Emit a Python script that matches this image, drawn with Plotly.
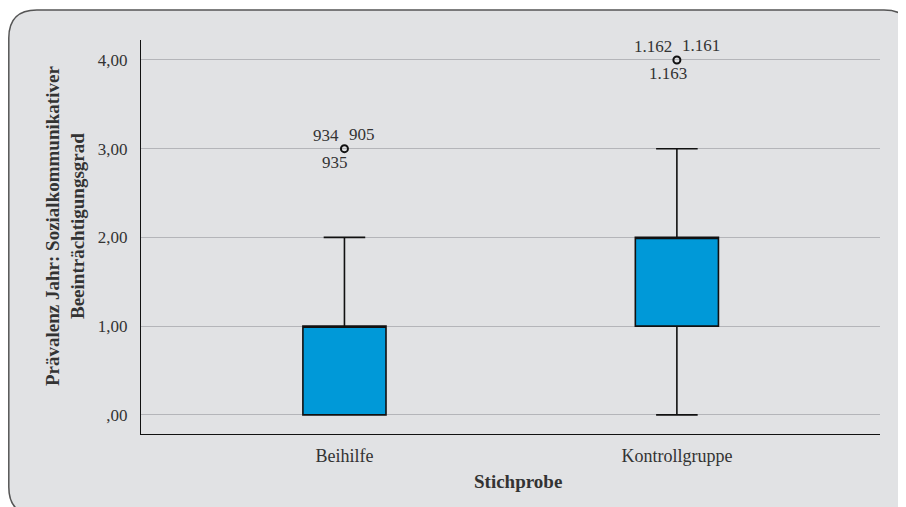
import plotly.graph_objects as go

# ---- data ----
groups = ["Beihilfe", "Kontrollgruppe"]
q1_vals = [0, 1]
median_vals = [1, 2]
q3_vals = [1, 2]
lower_fence = [0, 0]
upper_fence = [2, 3]

outlier_x = ["Beihilfe", "Kontrollgruppe"]
outlier_y = [3, 4]
label_left = ["934", "1.162"]
label_right = ["905", "1.161"]
label_below = ["935", "1.163"]

y_ticks = [0, 1, 2, 3, 4]
y_ticktext = [",00", "1,00", "2,00", "3,00", "4,00"]

x_title = "Stichprobe"
y_title = "Prävalenz Jahr: Sozialkommunikativer<br>Beeinträchtigungsgrad"

# ---- layout geometry (pixels) ----
# the page body has an 8px margin, so the figure is 8px smaller than the window
OFF = 8
W, H = 898, 499
L, R, T, B = 133, 26, 32, 73
PW, PH = W - L - R, H - T - B


def px(xp):  # page pixel -> paper x
    return (xp - OFF - L) / PW


def py(yp):  # page pixel -> paper y
    return (H - B - (yp - OFF)) / PH


FONT = "Liberation Serif, Times New Roman, serif"
TXT = "#333333"

fig = go.Figure()

fig.add_trace(go.Box(
    x=groups,
    q1=q1_vals,
    median=median_vals,
    q3=q3_vals,
    lowerfence=lower_fence,
    upperfence=upper_fence,
    boxpoints=False,
    width=0.25,
    whiskerwidth=0.5,
    fillcolor="#0099d8",
    line=dict(color="#111111", width=1.6),
    showlegend=False,
    hoverinfo="skip",
))

fig.add_trace(go.Scatter(
    x=outlier_x,
    y=outlier_y,
    mode="markers",
    marker=dict(symbol="circle-open", size=7, color="#111111", line=dict(width=2, color="#111111")),
    showlegend=False,
    hoverinfo="skip",
))

annotations = []
for xc, yv, tl, tr, tb in zip(outlier_x, outlier_y, label_left, label_right, label_below):
    annotations.append(dict(x=xc, y=yv, xref="x", yref="y", text=tl, showarrow=False,
                            xanchor="right", yanchor="middle", xshift=-3, yshift=13,
                            font=dict(family=FONT, size=17, color=TXT)))
    annotations.append(dict(x=xc, y=yv, xref="x", yref="y", text=tr, showarrow=False,
                            xanchor="left", yanchor="middle", xshift=3, yshift=14,
                            font=dict(family=FONT, size=17, color=TXT)))
    annotations.append(dict(x=xc, y=yv, xref="x", yref="y", text=tb, showarrow=False,
                            xanchor="center", yanchor="middle", xshift=-9, yshift=-14,
                            font=dict(family=FONT, size=17, color=TXT)))

# axis titles as annotations for exact placement
annotations.append(dict(x=px(518), y=py(481), xref="paper", yref="paper", text=f"<b>{x_title}</b>",
                        showarrow=False, xanchor="center", yanchor="middle",
                        font=dict(family=FONT, size=19, color=TXT)))
annotations.append(dict(x=px(65), y=py(226), xref="paper", yref="paper", text=f"<b>{y_title}</b>",
                        showarrow=False, xanchor="center", yanchor="middle", textangle=-90,
                        font=dict(family=FONT, size=19, color=TXT)))

# rounded card background (page pixel coordinates)
x0, x1, y0, y1, r = 8.8, 912, 10, 515, 28
path = (
    f"M {px(x0)},{py(y0 + r)} Q {px(x0)},{py(y0)} {px(x0 + r)},{py(y0)} "
    f"L {px(x1 - r)},{py(y0)} Q {px(x1)},{py(y0)} {px(x1)},{py(y0 + r)} "
    f"L {px(x1)},{py(y1 - r)} Q {px(x1)},{py(y1)} {px(x1 - r)},{py(y1)} "
    f"L {px(x0 + r)},{py(y1)} Q {px(x0)},{py(y1)} {px(x0)},{py(y1 - r)} Z"
)

fig.update_layout(
    width=W, height=H,
    margin=dict(l=L, r=R, t=T, b=B, autoexpand=False),
    paper_bgcolor="white",
    plot_bgcolor="rgba(0,0,0,0)",
    font=dict(family=FONT, size=17, color=TXT),
    annotations=annotations,
    shapes=[dict(type="path", path=path, xref="paper", yref="paper", layer="below",
                 fillcolor="#e1e2e4", line=dict(color="#555555", width=1.5))],
    xaxis=dict(
        type="category",
        range=[-0.612, 1.611],
        showgrid=False,
        showline=True, linecolor="#111111", linewidth=1.2,
        ticks="", ticklabelstandoff=5,
        tickfont=dict(family=FONT, size=18, color=TXT),
        zeroline=False,
    ),
    yaxis=dict(
        range=[-0.216, 4.225],
        tickvals=y_ticks, ticktext=y_ticktext,
        showgrid=True, gridcolor="#b4b5b9", gridwidth=1.2,
        showline=True, linecolor="#111111", linewidth=1.2,
        ticks="", ticklabelstandoff=9,
        tickfont=dict(family=FONT, size=17, color=TXT),
        zeroline=False,
    ),
)

fig.write_html("out.html")
